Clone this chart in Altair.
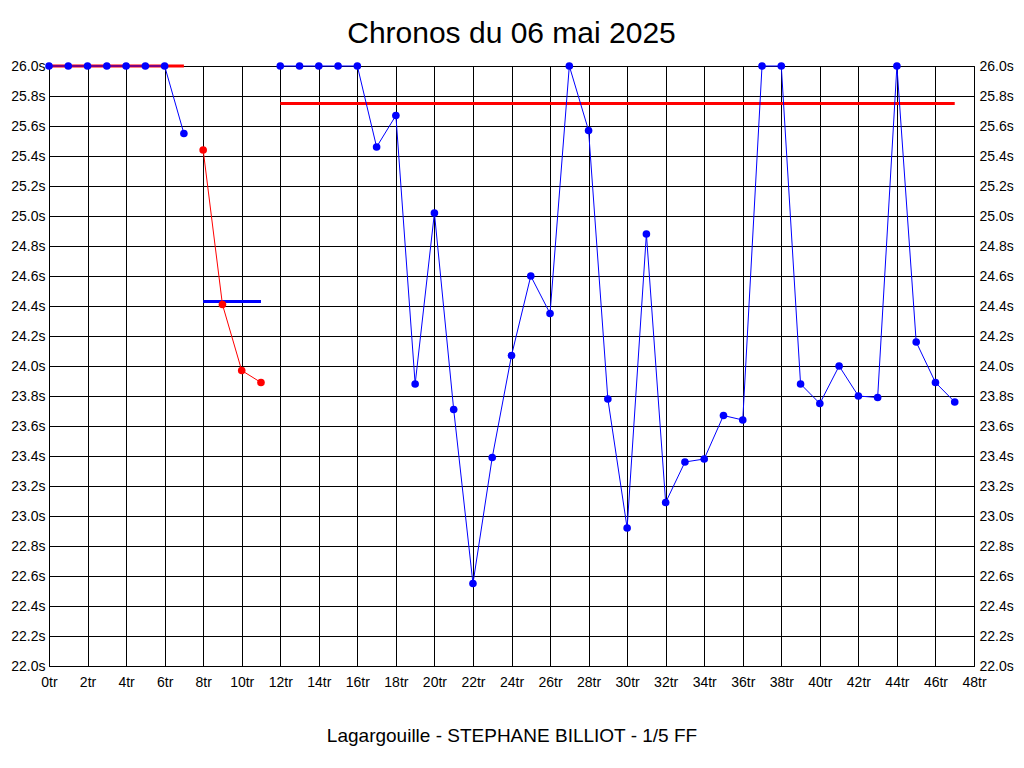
import altair as alt
import pandas as pd

# ---- data ----
laps = list(range(48))
times = [26.0, 26.0, 26.0, 26.0, 26.0, 26.0, 26.0, 25.55,
         25.44, 24.41, 23.97, 23.89,
         26.0, 26.0, 26.0, 26.0, 26.0, 25.46, 25.67, 23.88, 25.02, 23.71,
         22.55, 23.39, 24.07, 24.60, 24.35, 26.0, 25.57, 23.78, 22.92, 24.88,
         23.09, 23.36, 23.38, 23.67, 23.64, 26.0, 26.0, 23.88, 23.75, 24.00,
         23.80, 23.79, 26.0, 24.16, 23.89, 23.76]
relais = ["A"] * 8 + ["B"] * 4 + ["C"] * 36

avg_start = [0, 8, 12]
avg_end = [7, 11, 47]
avg_value = [26.0, 24.43, 25.75]
avg_group = ["moyA", "moyB", "moyC"]

x_ticks = [0, 2, 4, 6, 8, 10, 12, 14, 16, 18, 20, 22, 24, 26, 28, 30, 32, 34,
           36, 38, 40, 42, 44, 46, 48]
y_ticks = [22.0, 22.2, 22.4, 22.6, 22.8, 23.0, 23.2, 23.4, 23.6, 23.8, 24.0,
           24.2, 24.4, 24.6, 24.8, 25.0, 25.2, 25.4, 25.6, 25.8, 26.0]

title_text = "Chronos du 06 mai 2025"
subtitle_text = "Lagargouille - STEPHANE BILLIOT - 1/5 FF"

df = pd.DataFrame({"tour": laps, "temps": times, "serie": relais})
df_avg = pd.DataFrame({"debut": avg_start, "fin": avg_end, "temps": avg_value,
                       "serie": avg_group})

FONT = "Liberation Sans"
BLUE = "#0000ff"
RED = "#ff0000"

color = alt.Color(
    "serie:N",
    scale=alt.Scale(domain=["A", "B", "C", "moyA", "moyB", "moyC"],
                    range=[BLUE, RED, BLUE, RED, BLUE, RED]),
    legend=None,
)

x_scale = alt.Scale(domain=[0, 48], nice=False, zero=False)
y_scale = alt.Scale(domain=[22, 26], nice=False, zero=False)

x_axis = alt.Axis(
    values=x_ticks, labelExpr="datum.value + 'tr'", grid=True,
    gridColor="black", gridOpacity=1, gridWidth=1, domain=False, ticks=False,
    labelPadding=9, labelFontSize=14, labelColor="black", labelFont=FONT,
    labelFlush=False, labelOverlap=False,
    title=subtitle_text, titleFontSize=19, titleFontWeight="normal",
    titleFont=FONT, titleColor="black", titlePadding=37,
)


def y_axis(orient, grid):
    return alt.Axis(
        values=y_ticks, labelExpr="format(datum.value, '.1f') + 's'",
        orient=orient, grid=grid, gridColor="black", gridOpacity=1,
        gridWidth=1, domain=False, ticks=False, labelPadding=4 if orient == "left" else 5,
        labelFontSize=14, labelColor="black", labelFont=FONT,
        labelFlush=False, labelOverlap=False, title=None,
    )


rules = alt.Chart(df_avg).mark_rule(strokeWidth=3).encode(
    x=alt.X("debut:Q", scale=x_scale, axis=x_axis),
    x2="fin:Q",
    y=alt.Y("temps:Q", scale=y_scale, axis=y_axis("left", True)),
    color=color,
)

lines = alt.Chart(df).mark_line(strokeWidth=1).encode(
    x=alt.X("tour:Q", scale=x_scale, axis=x_axis),
    y=alt.Y("temps:Q", scale=y_scale, axis=None),
    color=color,
    detail="serie:N",
)

points = alt.Chart(df).mark_point(filled=True, size=58, opacity=1).encode(
    x=alt.X("tour:Q", scale=x_scale, axis=x_axis),
    y=alt.Y("temps:Q", scale=y_scale, axis=y_axis("right", False)),
    color=color,
)

chart = (
    alt.layer(rules, lines, points)
    .resolve_scale(y="shared", x="shared", color="shared")
    .resolve_axis(y="independent")
    .properties(
        width=925,
        height=600,
        title=alt.TitleParams(title_text, fontSize=30, fontWeight="normal",
                              font=FONT, color="black", anchor="middle",
                              frame="group", offset=10),
        autosize=alt.AutoSizeParams(type="none"),
        padding={"left": 41, "top": 58, "right": 42, "bottom": 94},
        background="white",
    )
    .configure_view(stroke="black", strokeWidth=1)
)

chart.save("out.html", embed_options={"renderer": "svg", "actions": False})
